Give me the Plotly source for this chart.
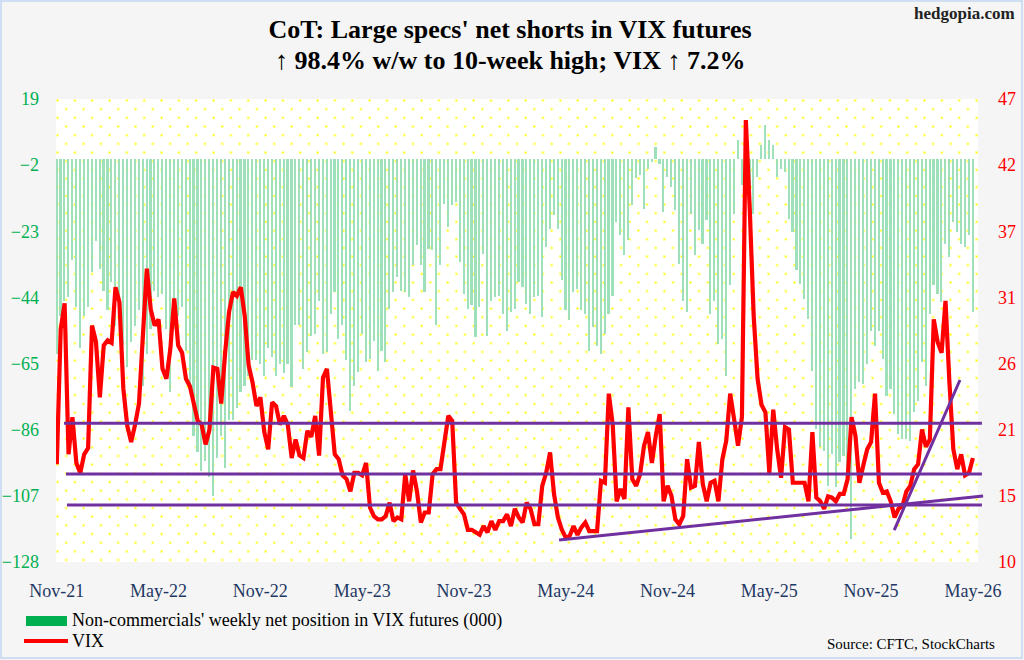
import base64
import pandas as pd
import plotly.graph_objects as go

# ---------------- data ----------------
first_week = "2021-11-16"

# Non-commercials' weekly net position in VIX futures (000)
net_pos = [
    -62, -50, -45, -44, -32, -47, -60, -50, -47, -36,
    -26, -35, -42, -48, -39, -53, -46, -59, -66, -58,
    -53, -48, -72, -62, -54, -42, -44, -43, -54, -74,
    -54, -50, -47, -61, -72, -88, -93, -99, -96, -101,
    -107, -95, -88, -98, -83, -83, -79, -74, -72, -69,
    -64, -64, -65, -69, -60, -63, -69, -65, -68, -65,
    -72.5, -52.9, -52.9, -66.7, -61.4, -56.1, -55.6, -45.0, -61.9, -61.4,
    -49.2, -42.3, -57.2, -52.9, -64.0, -80.0, -72.0, -67.8, -55.6, -64.6,
    -63.5, -57.7, -67.2, -60.9, -64.6, -47.6, -42.3, -37.5, -41.8, -42.3,
    -43.9, -33.8, -27.5, -33.8, -42.3, -28.5, -29.0, -52.9, -33.8, -14.2,
    -21.6, -14.7, -13.7, -32.8, -42.8, -47.6, -46.5, -56.6, -47.1, -30.1,
    -56.1, -45.0, -43.9, -43.4, -49.2, -54.5, -48.7, -47.6, -39.1,
    -40.7, -46.0, -49.2, -43.9, -43.4, -50.3, -28.0, -22.2, -17.9, -22.2,
    -38.6, -48.1, -51.3, -42.3, -41.2, -48.1, -49.2, -60.9, -53.4, -59.3,
    -61.9, -55.6, -49.2, -43.4, -20.0, -24.3, -30.6, -25.9, -14.7, -6.2,
    -5.2, -15.8, -3.1, -1.0, 3.8, -1.5, -16.9, -5.7, -8.9, -16.3,
    -33.3, -45.0, -48.7, -17.4, -30.6, -22.7, -26.9, -19.5, -49.2, -45.0,
    -58.7, -57.2, -68.8, -40.2, -17.4, 6.0,
    -8.4, -3.0, -10.0, -17.4, -5.7, 4.4, 10.7, 6.0, 4.4, -5.7,
    -3.1, -4.1, -19.0, -23.2, -35.4, -39.7, -44.4, -50.8, -67.2, -85.8,
    -91.6, -92.7, -103.8, -93.7, -104.3, -96.4, -94.3, -99.6, -120.8, -73.1,
    -70.9, -71.5, -65.1, -54.5, -59.3, -54.5, -63.5, -75.2, -73.1, -81.0,
    -87.4, -89.0, -89.0, -89.5, -80.5, -76.8, -64.6, -72.0, -49.2, -40.2,
    -42.8, -45.5, -26.9, -31.2, -20.0, -23.2, -26.9, -28.0, -24.3, -48.7,
]

# VIX weekly close
vix = [
    17.9, 28.8, 30.9, 18.7, 21.7, 18.0, 17.2, 18.7, 19.2, 29.1,
    27.8, 23.3, 27.5, 27.9, 27.7, 32.2, 31.0, 24.0, 21.0, 19.7,
    21.1, 22.8, 28.3, 33.7, 30.4, 29.1, 29.6, 25.6, 24.8, 27.2,
    31.3, 27.5, 26.9, 24.8, 24.2, 22.9, 21.4, 21.1, 19.5, 20.7,
    25.7, 25.6, 22.8, 26.9, 30.2, 31.8, 31.5, 32.2, 29.9, 25.9,
    24.5, 22.6, 23.3, 20.5, 19.1, 22.9, 22.6, 21.1, 21.8, 21.1,
    18.4, 19.9, 18.6, 18.4, 20.6, 20.1, 21.8, 18.6, 24.9, 25.6,
    21.8, 18.7, 18.3, 17.0, 16.7, 15.7, 17.2, 17.2, 17.0, 18.0,
    14.4, 13.7, 13.45, 13.45, 13.7, 14.8, 13.3, 13.6, 13.45, 17.1,
    14.9, 17.4, 15.7, 13.2, 14.0, 14.0, 17.1, 17.5, 17.5, 19.7,
    21.8, 21.4, 14.8, 14.3, 13.85, 12.6, 12.6, 12.4, 12.2, 12.9,
    12.4, 13.3, 12.6, 13.3, 13.3, 13.85, 12.9, 14.3, 13.6,
    13.2, 14.8, 14.3, 13.05, 13.05, 16.15, 17.2, 18.85, 15.5, 13.6,
    12.6, 11.97, 12.1, 12.9, 12.2, 12.8, 13.2, 12.5, 12.5, 12.5,
    16.55, 16.4, 23.6, 21.1, 14.9, 15.9, 15.1, 22.5, 16.7, 16.15,
    17.1, 19.4, 20.5, 18.0, 20.2, 21.95, 14.9, 16.15, 15.35, 13.45,
    13.05, 13.7, 18.3, 16.0, 16.15, 19.7, 16.3, 14.9, 16.4, 16.55,
    14.9, 18.3, 19.8, 23.6, 21.55, 19.4,
    21.7, 45.7, 38.5, 29.9, 24.8, 22.7, 22.1, 17.2, 22.3, 19.1,
    16.8, 20.9, 20.7, 16.4, 16.4, 16.4, 16.4, 14.9, 20.5, 15.2,
    14.9, 14.3, 15.3, 15.2, 14.9, 15.5, 15.5, 16.7, 21.7, 20.2,
    16.4, 17.8, 19.1, 19.7, 23.6, 16.4, 15.6, 15.7, 14.9, 13.6,
    14.3, 14.5, 15.7, 16.15, 17.5, 17.9, 20.7, 19.3, 19.9, 29.6,
    27.75, 26.9, 31.1, 24.5, 19.1, 17.5, 18.7, 17.0, 17.2, 18.4,
]

left_ticks = [-128, -107, -86, -65, -44, -23, -2, 19]
vix_min, vix_max = 10, 47.4
label_every = 26  # one x label every 26 weeks

title_line1 = "CoT: Large specs' net shorts in VIX futures"
title_line2 = "↑ 98.4% w/w to 10-week high; VIX ↑ 7.2%"

# analyst's drawn levels (VIX) and trendlines: (week index, VIX)
support_levels = [21.2, 17.1, 14.6]
support_starts = [1.84, 2.35, 2.61]
support_end = 236.3
trend_up = [(128.3, 11.78), (236.6, 15.33)]
trend_steep = [(213.9, 12.58), (230.7, 24.7)]

# ---------------- figure ----------------
assert len(net_pos) == len(vix)
dates = pd.date_range(first_week, periods=len(net_pos), freq="7D")
week = pd.Timedelta(days=7)
x_start = dates[0] - 0.2 * week
x_end = dates[-1] + 1.3 * week
n_span = (x_end - x_start) / week

right_ticks = [vix_min + k * (vix_max - vix_min) / 7 for k in range(8)]
right_text = [str(int(round(v))) for v in right_ticks]

W, H = 1024, 660
ML, MR, MT, MB = 56, 46, 99, 98
PW, PH = W - ML - MR, H - MT - MB


def xp(px):
    return (px - ML) / PW


def yp(py):
    return (H - MB - py) / PH


def wk(idx):
    return (idx + 0.2) / n_span


SERIF = "Liberation Serif"

fig = go.Figure()
fig.add_trace(go.Bar(
    x=dates, y=net_pos, name="Non-commercials' weekly net position in VIX futures (000)",
    marker=dict(color="#9ee0ba", line=dict(width=0)),
    width=0.42 * 7 * 86400000, yaxis="y", showlegend=False,
))
fig.add_trace(go.Scatter(
    x=dates, y=vix, name="VIX", mode="lines", yaxis="y2",
    line=dict(color="#ff0000", width=4.2), showlegend=False,
))

shapes = []
for lvl, s in zip(support_levels, support_starts):
    shapes.append(dict(type="line", xref="paper", yref="y2", x0=wk(s), x1=wk(support_end),
                       y0=lvl, y1=lvl, line=dict(color="#7030a0", width=3)))
for (a, b) in (trend_up, trend_steep):
    shapes.append(dict(type="line", xref="paper", yref="y2", x0=wk(a[0]), x1=wk(b[0]),
                       y0=a[1], y1=b[1], line=dict(color="#7030a0", width=3)))
# legend swatches
shapes.append(dict(type="rect", xref="paper", yref="paper", x0=xp(26), x1=xp(67),
                   y0=yp(626), y1=yp(616), fillcolor="#00b050", line=dict(width=0)))
shapes.append(dict(type="line", xref="paper", yref="paper", x0=xp(24), x1=xp(68),
                   y0=yp(641), y1=yp(641), line=dict(color="#ff0000", width=4)))
# outer border
shapes.append(dict(type="rect", xref="paper", yref="paper", x0=xp(1), x1=xp(1022),
                   y0=yp(658), y1=yp(1), line=dict(color="#cfdef2", width=2)))

annotations = [
    dict(text=f"<b>{title_line2}</b>", xref="paper", yref="paper", x=xp(510), y=yp(60),
         xanchor="center", yanchor="middle", showarrow=False,
         font=dict(family=SERIF, size=26, color="#000000")),
    dict(text="Non-commercials' weekly net position in VIX futures (000)", xref="paper", yref="paper",
         x=xp(70), y=yp(620), xanchor="left", yanchor="middle", showarrow=False,
         font=dict(family=SERIF, size=18, color="#000000")),
    dict(text="VIX", xref="paper", yref="paper", x=xp(70), y=yp(641), xanchor="left",
         yanchor="middle", showarrow=False, font=dict(family=SERIF, size=18, color="#000000")),
    dict(text="Source: CFTC, StockCharts", xref="paper", yref="paper", x=xp(997), y=yp(644),
         xanchor="right", yanchor="middle", showarrow=False,
         font=dict(family=SERIF, size=15, color="#000000")),
    dict(text="<b>hedgopia.com</b>", xref="paper", yref="paper", x=xp(1017), y=yp(13),
         xanchor="right", yanchor="middle", showarrow=False,
         font=dict(family=SERIF, size=17, color="#222222")),
]

# yellow dotted plot-area texture
svg = (f'<svg xmlns="http://www.w3.org/2000/svg" width="{PW}" height="{PH}">'
       '<defs><pattern id="d" x="0" y="0" width="17.34" height="17.34" patternUnits="userSpaceOnUse">'
       '<rect x="0.5" y="0.5" width="2" height="2" fill="#ffff00"/>'
       '<rect x="9.17" y="9.17" width="2" height="2" fill="#ffff00"/>'
       '</pattern></defs><rect width="100%" height="100%" fill="url(#d)"/></svg>')
svg_uri = "data:image/svg+xml;base64," + base64.b64encode(svg.encode()).decode()

fig.update_layout(
    width=W, height=H,
    margin=dict(l=ML, r=MR, t=MT, b=MB, pad=0, autoexpand=False),
    paper_bgcolor="#f5f5f5", plot_bgcolor="#ffffff",
    bargap=0,
    title=dict(
        text=f"<b>{title_line1}</b>",
        x=510 / W, xanchor="center", y=1 - 29 / H, yanchor="middle",
        font=dict(family=SERIF, size=26, color="#000000"),
    ),
    xaxis=dict(
        type="date", range=[x_start, x_end], tickvals=list(dates[::label_every]),
        tickformat="%b-%y", showgrid=False, zeroline=False, showline=False, ticks="",
        tickfont=dict(family=SERIF, size=18, color="#1f3864"), ticklabelstandoff=16,
        automargin=False,
    ),
    yaxis=dict(
        range=[-128, 19], tickvals=left_ticks, showgrid=False, zeroline=False, showline=False,
        ticks="", tickfont=dict(family=SERIF, size=18, color="#00b050"), ticklabelstandoff=16,
        automargin=False,
    ),
    yaxis2=dict(
        range=[vix_min, vix_max], tickvals=right_ticks, ticktext=right_text, overlaying="y",
        side="right", showgrid=False, zeroline=False, showline=False, ticks="",
        tickfont=dict(family=SERIF, size=18, color="#ff0000"), ticklabelstandoff=19,
        automargin=False,
    ),
    images=[dict(source=svg_uri, xref="paper", yref="paper", x=0, y=1, sizex=1, sizey=1,
                 xanchor="left", yanchor="top", sizing="stretch", layer="below")],
    shapes=shapes,
    annotations=annotations,
    showlegend=False,
)

fig.write_html(
    "out.html",
    config={"displayModeBar": False},
    post_script="document.body.style.margin='0px';document.body.style.overflow='hidden';"
                "document.documentElement.style.overflow='hidden';",
)
